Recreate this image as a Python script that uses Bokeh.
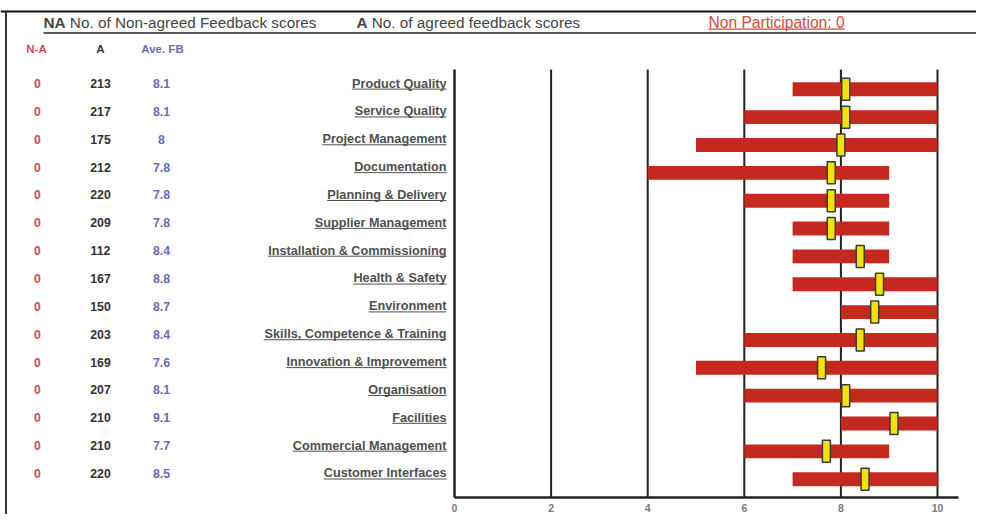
from bokeh.plotting import figure
from bokeh.models import ColumnDataSource, Range1d, LinearAxis, FixedTicker
from bokeh.core.properties import value
from bokeh.embed import file_html
from bokeh.resources import INLINE

# ---------------- data ----------------
categories = [
    "Product Quality", "Service Quality", "Project Management", "Documentation",
    "Planning & Delivery", "Supplier Management", "Installation & Commissioning",
    "Health & Safety", "Environment", "Skills, Competence & Training",
    "Innovation & Improvement", "Organisation", "Facilities",
    "Commercial Management", "Customer Interfaces",
]
na_counts = [0, 0, 0, 0, 0, 0, 0, 0, 0, 0, 0, 0, 0, 0, 0]
a_counts = [213, 217, 175, 212, 220, 209, 112, 167, 150, 203, 169, 207, 210, 210, 220]
ave_fb = [8.1, 8.1, 8.0, 7.8, 7.8, 7.8, 8.4, 8.8, 8.7, 8.4, 7.6, 8.1, 9.1, 7.7, 8.5]
range_low = [7, 6, 5, 4, 6, 7, 7, 7, 8, 6, 5, 6, 8, 6, 7]
range_high = [10, 10, 10, 9, 9, 9, 9, 10, 10, 10, 10, 10, 10, 9, 10]
x_ticks = [0, 2, 4, 6, 8, 10]
grid_ticks = [2, 4, 6, 8, 10]
non_participation = 0

# ---------------- font metrics (Arial / Liberation Sans, per 1000 em) ----------------
REG = {' ': 278, '&': 667, ',': 278, '-': 333, '.': 278, ':': 278}
BOLD = {' ': 278, '&': 722, ',': 278, '-': 333, '.': 278, ':': 333}
for d in "0123456789":
    REG[d] = 556
    BOLD[d] = 556
REG.update(dict(zip("ABCDEFGHIJKLMNOPQRSTUVWXYZ",
    [667, 667, 722, 722, 667, 611, 778, 722, 278, 500, 667, 556, 833, 722, 778, 667, 778, 722, 667, 611, 722, 667, 944, 667, 667, 611])))
REG.update(dict(zip("abcdefghijklmnopqrstuvwxyz",
    [556, 556, 500, 556, 556, 278, 556, 556, 222, 222, 500, 222, 833, 556, 556, 556, 556, 333, 500, 278, 556, 500, 722, 500, 500, 500])))
BOLD.update(dict(zip("ABCDEFGHIJKLMNOPQRSTUVWXYZ",
    [722, 722, 722, 722, 667, 611, 778, 722, 278, 556, 722, 611, 833, 722, 778, 667, 778, 722, 667, 611, 722, 667, 944, 667, 667, 611])))
BOLD.update(dict(zip("abcdefghijklmnopqrstuvwxyz",
    [556, 611, 556, 611, 556, 333, 611, 611, 278, 278, 556, 278, 889, 611, 611, 611, 611, 389, 556, 333, 611, 556, 778, 556, 556, 500])))


def text_w(s, size, bold=False):
    t = BOLD if bold else REG
    return sum(t.get(c, 556) for c in s) * size / 1000.0


# ---------------- layout helpers (canvas pixels -> data) ----------------
W, H = 976, 514
PX0, PXU = 454.0, 48.3     # canvas x of value 0, pixels per unit
PY0, PYU = 88.8, 27.85     # canvas y of first row centre, pixels per row


def dx(px):
    return (px - PX0) / PXU


def dy(py):
    return (py - PY0) / PYU


FONT_NAME = "Liberation Sans"
FONT = value(FONT_NAME)
rows = list(range(len(categories)))
axis_row = dy(496.5)
top_row = dy(69)

p = figure(width=W, height=H, output_backend="svg", toolbar_location=None,
           title=None, x_range=Range1d(dx(0), dx(W)), y_range=Range1d(dy(H), dy(0)),
           x_axis_location=None, y_axis_location=None, min_border=0,
           outline_line_color=None, background_fill_color="white")
for g in p.grid:
    g.visible = False

src = ColumnDataSource(dict(
    row=rows, cat=categories, lo=range_low, hi=range_high, ave=ave_fb,
    na=[str(v) for v in na_counts], a=[str(v) for v in a_counts],
    fb=[f"{v:g}" for v in ave_fb],
))

# vertical grid lines (behind the bars)
p.segment(x0=grid_ticks, x1=grid_ticks, y0=[top_row] * len(grid_ticks), y1=[axis_row] * len(grid_ticks),
          line_color="#222222", line_width=2, level="underlay")

# range bars
p.hbar(y="row", left="lo", right="hi", height=0.5, source=src,
       fill_color="#c5281e", line_color=None)
# average markers
p.rect(x="ave", y="row", width=8, height=22, width_units="screen", height_units="screen",
       source=src, fill_color="#f2e205", line_color="#3a3a3a", line_width=1.5)

# axes
xaxis = LinearAxis(fixed_location=axis_row, bounds=(0, 10.43), ticker=FixedTicker(ticks=x_ticks),
                   axis_line_color="#222222", axis_line_width=2.5,
                   major_tick_line_color=None, minor_tick_line_color=None,
                   major_label_standoff=1, major_label_text_align="left",
                   major_label_text_font=FONT_NAME, major_label_text_font_style="bold",
                   major_label_text_font_size="10.5px", major_label_text_color="#7a7a7a")
p.add_layout(xaxis, "below")
yaxis = LinearAxis(fixed_location=0, bounds=(top_row, axis_row), ticker=FixedTicker(ticks=[]),
                   axis_line_color="#222222", axis_line_width=2.5,
                   major_tick_line_color=None, minor_tick_line_color=None,
                   major_label_text_font_size="0px")
p.add_layout(yaxis, "left")

# ---------------- row texts ----------------
LBL_SIZE = 12.7
txt_off = -5.8 / PYU
label_right = 446
src.data["ty"] = [r + txt_off for r in rows]
p.text(x=dx(label_right), y="ty", text="cat", source=src, text_align="right",
       text_baseline="middle", text_font=FONT, text_font_style="bold",
       text_font_size=f"{LBL_SIZE}px", text_color="#4f4f4f")
# underlines of the category labels
ul_y = [r + txt_off + (0.347 * LBL_SIZE + 1.2) / PYU for r in rows]
p.segment(x0=[dx(label_right - text_w(c, LBL_SIZE, True)) for c in categories],
          x1=[dx(label_right)] * len(categories), y0=ul_y, y1=ul_y,
          line_color="#4f4f4f", line_width=1)

NUM_SIZE = "12.3px"
p.text(x=dx(37), y="ty", text="na", source=src, text_align="center", text_baseline="middle",
       text_font=FONT, text_font_style="bold", text_font_size=NUM_SIZE, text_color="#d24b4b")
p.text(x=dx(100), y="ty", text="a", source=src, text_align="center", text_baseline="middle",
       text_font=FONT, text_font_style="bold", text_font_size=NUM_SIZE, text_color="#333333")
p.text(x=dx(161), y="ty", text="fb", source=src, text_align="center", text_baseline="middle",
       text_font=FONT, text_font_style="bold", text_font_size=NUM_SIZE, text_color="#6a6ab8")

# column headers
hy = dy(48.5)
p.text(x=[dx(36)], y=[hy], text=["N-A"], text_align="center", text_baseline="middle",
       text_font=FONT, text_font_style="bold", text_font_size="11.5px", text_color="#d24b4b")
p.text(x=[dx(100)], y=[hy], text=["A"], text_align="center", text_baseline="middle",
       text_font=FONT, text_font_style="bold", text_font_size="11.5px", text_color="#333333")
p.text(x=[dx(162)], y=[hy], text=["Ave. FB"], text_align="center", text_baseline="middle",
       text_font=FONT, text_font_style="bold", text_font_size="11.5px", text_color="#6a6ab8")

# ---------------- top header ----------------
HS = 15.3
ty0 = dy(22)
legend_parts = [(43, "NA", "No. of Non-agreed Feedback scores"),
                (356, "A", "No. of agreed feedback scores")]
for x0, b, rest in legend_parts:
    p.text(x=[dx(x0)], y=[ty0], text=[b], text_align="left", text_baseline="middle",
           text_font=FONT, text_font_style="bold", text_font_size=f"{HS}px", text_color="#444444")
    p.text(x=[dx(x0 + text_w(b + " ", HS, True))], y=[ty0], text=[rest], text_align="left",
           text_baseline="middle", text_font=FONT, text_font_size=f"{HS}px", text_color="#444444")

np_text = f"Non Participation: {non_participation}"
NP_SIZE = 15.6
p.text(x=[dx(708)], y=[ty0], text=[np_text], text_align="left", text_baseline="middle",
       text_font=FONT, text_font_size=f"{NP_SIZE}px", text_color="#d9473b")
np_ul = dy(22 + 0.347 * NP_SIZE + 1.2)
p.segment(x0=[dx(708)], x1=[dx(708 + text_w(np_text, NP_SIZE))], y0=[np_ul], y1=[np_ul],
          line_color="#d9473b", line_width=1.3)

# header rule and frame borders
p.segment(x0=[dx(43)], x1=[dx(976)], y0=[dy(32.5)], y1=[dy(32.5)], line_color="#5a5a5a", line_width=2)
p.segment(x0=[dx(0)], x1=[dx(976)], y0=[dy(11)], y1=[dy(11)], line_color="#111111", line_width=2)
p.segment(x0=[dx(5.5)], x1=[dx(5.5)], y0=[dy(11)], y1=[dy(514)], line_color="#333333", line_width=2)

open("out.html", "w").write(file_html(p, INLINE))
